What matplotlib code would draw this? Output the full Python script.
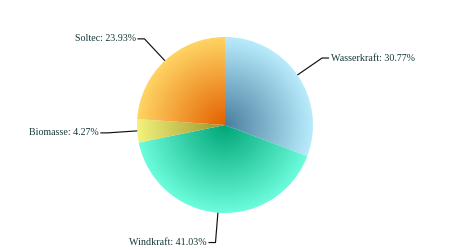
import numpy as np
import matplotlib.pyplot as plt
from matplotlib.patches import Wedge
from matplotlib.colors import LinearSegmentedColormap

plt.rcParams['font.family'] = 'Liberation Serif'

# data
labels = ['Wasserkraft', 'Windkraft', 'Biomasse', 'Soltec']
values = [30.77, 41.03, 4.27, 23.93]
inner_colors = ['#4a7ea0', '#00a676', '#9c9228', '#e46000']
outer_colors = ['#b8ecfc', '#6cfcdc', '#f2f27c', '#ffd464']

W, H, R = 450, 250, 88.0
fig = plt.figure(figsize=(W / 100, H / 100), dpi=100)
ax = fig.add_axes([0, 0, 1, 1])
ax.set_xlim(-W / 2 / R, W / 2 / R)
ax.set_ylim(-H / 2 / R, H / 2 / R)
ax.set_aspect('equal')
ax.axis('off')

# radial distance grid for the gradient fill
g = np.linspace(-1, 1, 400)
gx, gy = np.meshgrid(g, g)
rr = np.sqrt(gx**2 + gy**2)

total = sum(values)
start = 90.0
for lab, v, c0, c1 in zip(labels, values, inner_colors, outer_colors):
    sweep = v / total * 360
    end = start - sweep
    w = Wedge((0, 0), 1, end, start, facecolor='none', edgecolor='none')
    ax.add_patch(w)
    cmap = LinearSegmentedColormap.from_list(lab, [c0, c1])
    im = ax.imshow(rr, cmap=cmap, vmin=0, vmax=1, extent=[-1, 1, -1, 1],
                   origin='lower', interpolation='bilinear')
    im.set_clip_path(w)

    # leader line and label
    mid = np.deg2rad((start + end) / 2)
    ex, ey = np.cos(mid), np.sin(mid)
    kx, ky = 1.34 * ex, 1.34 * ey
    side = 1 if ex > 0 else -1
    hx = kx + side * 0.08
    ax.plot([ex, kx, hx], [ey, ky, ky], color='#111111', lw=0.85,
            solid_capstyle='butt')
    ax.text(hx + side * 0.02, ky, f'{lab}: {v:.2f}%',
            ha='left' if side > 0 else 'right', va='center',
            fontsize=7.2, color='#173838')
    start = end

fig.savefig('out.png', dpi=100)
